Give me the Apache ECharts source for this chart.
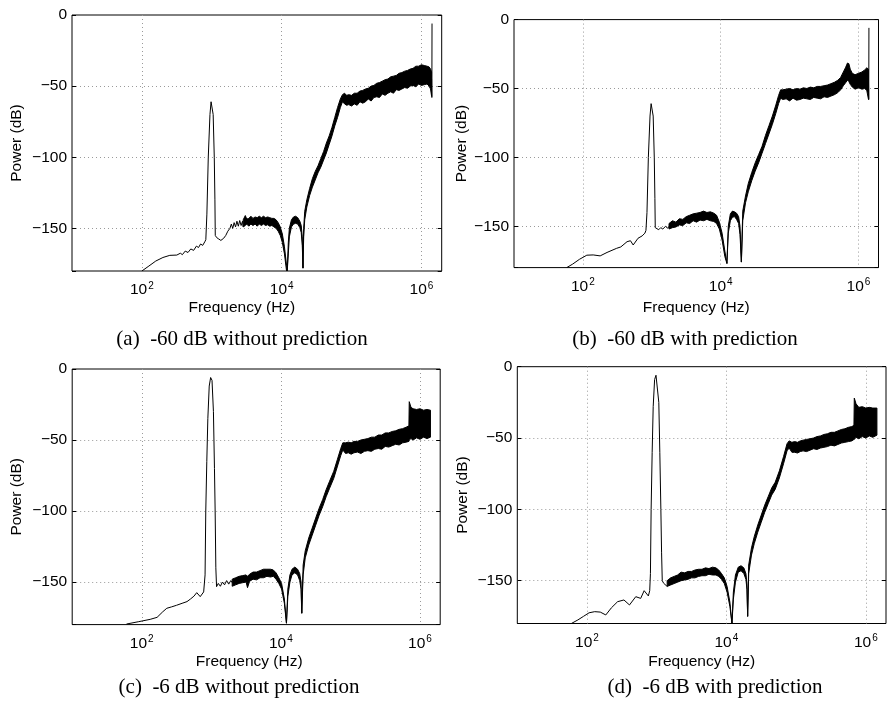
<!DOCTYPE html>
<html>
<head>
<meta charset="utf-8">
<script src="https://cdn.jsdelivr.net/npm/echarts@6/dist/echarts.min.js"></script>
<style>html,body{margin:0;padding:0;background:#fff}#c{width:889px;height:701px}</style>
</head>
<body>
<div id="c"></div>
<script>
// ---------- data (frequency in Hz, power in dB) ----------
const xTickLabels = ['10{s|2}', '10{s|4}', '10{s|6}'];
const yTicks = [0, -50, -100, -150];
const captions = ['(a)  -60 dB without prediction', '(b)  -60 dB with prediction',
                  '(c)  -6 dB without prediction', '(d)  -6 dB with prediction'];

// (a) -60 dB without prediction
const aLineHz = [100,126,158,200,251,316,355,380,417,457,501,550,603,646,692,741,794,822,851,891,942,977,1000,1023,1047,1086,1109,1122,1175,1259,1349,1479,1585,1698,1820,1905,1995,2089,2188,2291,2399,2512,2630,2754,2818];
const aLineDb = [-180,-176.5,-173,-170.5,-169,-168.8,-167.5,-168.5,-166,-167,-164.5,-165.5,-162.5,-163.5,-161,-162,-159.5,-158,-140,-100,-70,-61,-60,-61,-70,-100,-130,-155,-156.5,-157.5,-158.5,-157,-155,-152,-150,-147,-150,-146,-149,-145,-148.5,-144.5,-148,-145,-149];
const aBandHz = [2818,3020,3162,3388,3631,3890,4169,4467,4786,5129,5495,5888,6310,6761,7244,7762,8318,8913,9550,10233,10965,11749,12023,12445,12882,13804,14791,15849,16982,18197,19055,19724,20184,20654,21380,22909,25119,27542,30200,33113,36308,39811,43652,47863,52481,57544,63096,69183,74131,79433,85114,91201,100000,109648,120226,131826,144544,158489,173780,190546,208930,229087,251189,275423,301995,331131,363078,398107,436516,478630,524807,575440,630957,691831,758578,831764,912011,1000000,1096478,1202264,1288250,1348963,1396368];
const aBandLo = [-149,-148,-147,-148.5,-147,-148,-147,-148.5,-147,-148,-147,-148,-147.5,-148.5,-148,-149,-150,-152,-155,-160,-168,-180,-180,-168,-156,-149,-147,-146.5,-147,-149.5,-153,-162,-178,-156,-144,-135,-127,-121,-116,-111,-107,-102,-97,-91,-85,-78,-72,-65,-61,-62.5,-63.5,-63,-64,-62.5,-63.5,-61,-62,-61,-59,-60.5,-58,-57.5,-58,-55.5,-56.5,-55,-54,-55,-52.5,-53,-52,-51,-51.5,-50,-49.5,-50.5,-48.5,-49.5,-49,-48.5,-50,-52,-57];
const aBandHi = [-144,-141,-143.5,-143,-141.5,-143,-142,-142.5,-141.5,-142.5,-141.5,-142.5,-142,-142.5,-143,-143,-144,-146,-149,-154,-163,-176,-180,-160,-150,-144,-142,-141.5,-142.5,-145,-148,-156,-178,-150,-138,-130,-122,-115,-110,-106,-101,-96,-90,-85,-79,-72,-65,-59,-56,-55,-56.5,-56,-56.5,-55,-55,-53.5,-53,-52,-51.5,-50,-49.5,-48,-47.5,-46.5,-45.5,-45,-43.5,-43,-42.5,-41,-40.5,-39.5,-39,-38,-37.5,-36,-36,-35,-35.5,-36,-36.5,-38,-40];
const aSpikeHz = [1396368,1410000,1418000];
const aSpikeDb = [-45,-58,-6];

// (b) -60 dB with prediction
const bLineHz = [58.2,70.8,89,114,141,178,224,309,355,437,490,537,631,724,794,822,851,891,942,977,1000,1023,1047,1086,1109,1122,1175,1259,1349,1445,1585,1698,1778];
const bLineDb = [-180,-177.5,-174,-171,-170.8,-171.5,-169,-166,-165,-161.2,-160.5,-163.6,-158.7,-157,-155,-153,-140,-100,-70,-61,-60,-61,-70,-100,-130,-151,-151.5,-152.5,-151,-152,-150,-151.5,-150];
const bBandHz = [1778,1995,2239,2512,2818,3162,3548,3981,4467,5012,5623,6310,7079,7943,8710,9550,10471,11482,12303,12882,13804,14791,15849,16982,18197,19055,19953,20893,22909,25119,28184,31623,35481,39811,44668,50119,56234,63096,69183,74131,79433,89125,100000,112202,125893,141254,158489,177828,199526,223872,251189,281838,316228,354813,398107,446684,501187,549541,602560,645654,691831,724436,758578,812831,891251,1000000,1122018,1230269,1318257,1396368];
const bBandLo = [-152,-151,-150.5,-149,-149.5,-147.5,-148,-146,-147,-145.5,-146,-145,-146,-146.5,-148,-152,-160,-172,-177,-155,-146,-143.5,-143,-145,-148,-156,-176,-146,-133,-125,-117,-110,-104,-97,-90,-83,-76,-68,-61,-57,-58,-57.5,-59,-57,-58.5,-58,-57,-57.5,-58,-56.5,-57,-57.5,-56,-56.5,-55.5,-54.5,-53,-51,-48,-46,-44,-45,-47,-49,-50.5,-49.5,-50.5,-50,-51.5,-58];
const bBandHi = [-148,-146,-147,-144.5,-145,-143,-142,-141,-140.5,-140,-139,-140,-139.5,-140.5,-142,-147,-155,-168,-177,-150,-141,-139,-139.5,-140.5,-143,-150,-176,-139,-128,-119,-111,-104,-98,-92,-84,-77,-70,-62,-55,-51,-51,-50.5,-50,-51,-50,-50.5,-49.5,-50,-49,-49.5,-48.5,-48.5,-48,-47.5,-46.5,-45.5,-44,-42,-38,-35,-31.5,-32,-36,-39,-40,-39,-38,-36.5,-35,-36];
const bSpikeHz = [1396368,1408000,1416000];
const bSpikeDb = [-45,-58,-6];

// (c) -6 dB without prediction
const cLineHz = [60.3,89,132,166,200,229,269,316,380,447,501,562,617,692,776,794,813,832,861,891,933,977,1023,1072,1109,1135,1161,1189,1259,1349,1445,1549,1660,1778,1905,1995];
const cLineDb = [-179.6,-178,-176.3,-174.9,-171,-168.5,-167.5,-166.4,-165,-163.8,-162,-160,-157.5,-160.3,-157,-156.8,-145,-100,-65,-35,-12,-6,-8,-30,-70,-100,-140,-153.3,-151,-153,-150,-152,-149,-151.5,-149,-150.5];
const cBandHz = [1995,2239,2512,2818,3162,3311,3548,3981,4467,5012,5623,6310,7079,7762,8511,9333,10233,11220,12023,12589,13490,14454,15849,17378,18621,19498,19953,20893,22387,25119,28184,31623,35481,39811,44668,50119,57544,64565,72444,77625,85114,93325,102329,112202,125893,141254,158489,177828,199526,223872,251189,281838,316228,354813,398107,446684,501187,562341,630957,691831,699842,741310,794328,891251,1000000,1122018,1258925,1412538];
const cBandLo = [-153,-152,-151,-150.5,-150,-154,-149.5,-148,-148.5,-147,-147,-146,-146.5,-146,-148,-151,-155,-165,-179,-160,-150,-145,-143.5,-145,-149,-155,-172,-145,-133,-124,-117,-110,-103,-97,-90,-84,-77,-69,-61,-57,-59.5,-59,-60,-59,-58.5,-59.5,-58,-57.5,-58,-56.5,-56,-56.5,-54.5,-55,-54,-53,-53.5,-52,-51.5,-51,-50,-49,-50,-48.5,-49.5,-48,-49,-48];
const cBandHi = [-148,-147,-146,-145.5,-145,-146,-144.5,-143,-143,-142,-141,-141,-141,-141.5,-143.5,-147,-151,-162,-179,-155,-145,-141,-139.5,-141,-144,-150,-172,-138,-128,-119,-112,-105,-98,-92,-85,-79,-72,-64,-56,-52,-52,-51.5,-52,-51,-51,-50,-49.5,-49,-48,-48,-46.5,-46.5,-45,-45,-44,-43.5,-42.5,-42,-41,-40,-23,-27,-28,-28.5,-28,-29,-28.5,-29];

// (d) -6 dB with prediction
const dLineHz = [59.6,74,89,107,129,155,186,224,275,339,407,501,589,661,759,794,813,832,861,891,933,977,1000,1023,1072,1109,1148,1175,1202,1259,1318,1413];
const dLineDb = [-180,-177.5,-175,-172.5,-171.7,-172,-174,-169,-164.7,-163.5,-167,-161.2,-162.4,-157,-160.7,-157,-145,-100,-60,-28,-9,-6,-5.8,-6.5,-25,-60,-100,-130,-150,-151.8,-153,-154];
const dBandHz = [1413,1585,1778,1995,2239,2512,2818,3162,3548,3981,4467,5012,5623,6310,7079,7762,8511,9333,10233,11220,12023,12589,13490,14791,16218,17783,19055,19724,20184,20893,22909,25119,28184,31623,35481,39811,44668,50119,57544,66069,74131,79433,87096,95499,104713,114815,125893,141254,158489,177828,199526,223872,251189,281838,316228,354813,398107,446684,501187,562341,630957,676083,683912,724436,794328,891251,1000000,1122018,1258925,1445440];
const dBandLo = [-154,-153,-152,-151,-150,-149.5,-149,-148,-148,-147,-146.5,-146.5,-145.5,-146,-146,-147,-149,-152,-158,-168,-180,-163,-151,-144,-143,-145,-149,-156,-175,-145,-132,-124,-116,-109,-102,-96,-90,-86,-78,-68,-59,-57,-60,-60,-60.5,-59.5,-59,-59.5,-58.5,-57.5,-58,-57,-56.5,-56,-55,-55.5,-54.5,-53.5,-53,-52.5,-52,-51,-51,-49.5,-50.5,-49,-50,-48.5,-49.5,-48];
const dBandHi = [-150,-148,-147,-146,-144,-144.5,-143.5,-143.5,-142.5,-142,-142,-141,-141.5,-140.5,-141,-142.5,-145,-148,-154,-165,-180,-158,-146,-140.5,-139.5,-141,-145,-152,-175,-139,-127,-119,-111,-104,-97,-91,-85,-81,-73,-63,-54,-52,-53,-52.5,-53,-52,-51.5,-51,-50.5,-50,-49,-48.5,-47.5,-47,-46,-46,-45,-44,-43.5,-42.5,-42,-41,-22,-26,-28.5,-28,-29,-28.5,-29,-29];

// ---------- layout ----------
const panels = [
  {grid:{left:72, top:15, width:369.7, height:256}, xGap:29, yGap:47, xPad:[0,30,0,0], caption:[242,339],
   line:[aLineHz,aLineDb], band:[aBandHz,aBandLo,aBandHi], spike:[aSpikeHz,aSpikeDb]},
  {grid:{left:514, top:19.6, width:364.5, height:248}, xGap:32, yGap:44, xPad:[0,0,0,0], caption:[685,339],
   line:[bLineHz,bLineDb], band:[bBandHz,bBandLo,bBandHi], spike:[bSpikeHz,bSpikeDb]},
  {grid:{left:72.2, top:369, width:368, height:255.6}, xGap:29, yGap:47, xPad:[0,14,0,0], caption:[239,687],
   line:[cLineHz,cLineDb], band:[cBandHz,cBandLo,cBandHi], spike:null},
  {grid:{left:517.3, top:366.7, width:372.5, height:256.8}, xGap:30, yGap:47, xPad:[0,0,0,0], caption:[715,687],
   line:[dLineHz,dLineDb], band:[dBandHz,dBandLo,dBandHi], spike:null}
];

const SANS = '"Liberation Sans", Arial, Helvetica, sans-serif';
const SERIF = '"Liberation Serif", "Times New Roman", serif';

function xLabel(v) {
  const e = Math.log10(v), r = Math.round(e);
  if (Math.abs(e - r) > 1e-6) return '';
  const i = [2, 4, 6].indexOf(r);
  return i < 0 ? '' : xTickLabels[i];
}
function yLabel(v) {
  if (yTicks.indexOf(v) < 0) return '';
  return v < 0 ? '\u2212' + (-v) : String(v);
}

const option = { animation: false, grid: [], xAxis: [], yAxis: [], series: [], graphic: [] };

panels.forEach((p, k) => {
  option.grid.push(Object.assign({show:true, borderColor:'#000', borderWidth:1, backgroundColor:'transparent'}, p.grid));
  option.xAxis.push({
    type:'log', logBase:10, gridIndex:k, min:10, max:1.95e6,
    name:'Frequency (Hz)', nameLocation:'middle', nameGap:p.xGap,
    nameTextStyle:{fontFamily:SANS, fontSize:15.5, color:'#000', padding:p.xPad},
    axisLine:{show:false}, axisTick:{show:false},
    axisLabel:{formatter:xLabel, fontFamily:SANS, fontSize:15.5, color:'#000', margin:10, showMinLabel:true, showMaxLabel:true,
      rich:{s:{fontFamily:SANS, fontSize:10, color:'#000', verticalAlign:'top', padding:[0,0,8,1]}}},
    splitLine:{show:true, showMinLine:true, showMaxLine:true,
      lineStyle:{color:['rgba(0,0,0,0)','#9a9a9a'], type:[1,3], width:1}}
  });
  const yCommon = {type:'value', gridIndex:k, min:-180, max:0, splitNumber:4};
  option.yAxis.push(Object.assign({}, yCommon, {
    position:'left',
    name:'Power (dB)', nameLocation:'middle', nameGap:p.yGap, nameRotate:90,
    nameTextStyle:{fontFamily:SANS, fontSize:15.5, color:'#000'},
    axisLine:{show:false},
    axisTick:{show:true, inside:true, length:4, lineStyle:{color:'#000'}},
    axisLabel:{formatter:yLabel, fontFamily:SANS, fontSize:15.5, color:'#000', margin:5},
    splitLine:{show:true, showMinLine:false, showMaxLine:false, lineStyle:{color:'#9a9a9a', type:[1,3], width:1}}
  }));
  option.yAxis.push(Object.assign({}, yCommon, {
    position:'right', axisLine:{show:false}, axisLabel:{show:false}, splitLine:{show:false},
    axisTick:{show:true, inside:true, length:4, lineStyle:{color:'#000'}}
  }));
  const yi = 2 * k;
  option.series.push({
    type:'line', xAxisIndex:k, yAxisIndex:yi, silent:true, symbol:'none', clip:true,
    data:p.line[0].map((f,i)=>[f, p.line[1][i]]),
    lineStyle:{color:'#000', width:1}
  });
  option.series.push({
    type:'custom', xAxisIndex:k, yAxisIndex:yi, silent:true, clip:true,
    data:p.band[0].map((f,i)=>[f, p.band[1][i], p.band[2][i]]),
    encode:{x:0, y:[1,2]},
    renderItem:function(params, api){
      if (params.dataIndexInside !== 0) return null;
      const n = params.dataInsideLength, up = [], dn = [];
      for (let i = 0; i < n; i++) {
        up.push(api.coord([api.value(0,i), api.value(2,i)]));
        dn.push(api.coord([api.value(0,i), api.value(1,i)]));
      }
      return {type:'polygon', shape:{points: up.concat(dn.reverse())},
              style:{fill:'#000', stroke:'#000', lineWidth:1, lineJoin:'round'}};
    }
  });
  if (p.spike) option.series.push({
    type:'line', xAxisIndex:k, yAxisIndex:yi, silent:true, symbol:'none', clip:true,
    data:p.spike[0].map((f,i)=>[f, p.spike[1][i]]),
    lineStyle:{color:'#000', width:1}
  });
  option.graphic.push({type:'text', x:p.caption[0], y:p.caption[1], silent:true,
    style:{text:captions[k], fontFamily:SERIF, fontSize:21, fill:'#000', align:'center', verticalAlign:'middle'}});
});

const chart = echarts.init(document.getElementById('c'), null, {renderer:'canvas'});
chart.setOption(option);
</script>
</body>
</html>
